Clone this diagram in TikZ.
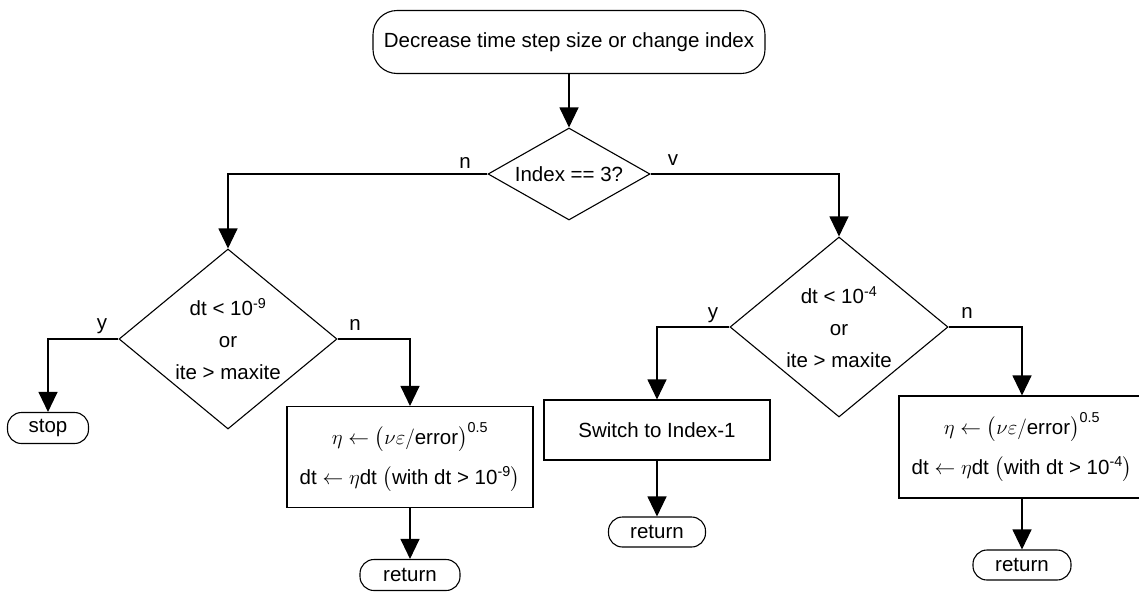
\documentclass[tikz,border=0pt]{standalone}
\usepackage{amsmath}
\usepackage{fontspec}
\setmainfont{Liberation Sans}
\usetikzlibrary{shapes,arrows.meta,positioning}

\begin{document}
\begin{tikzpicture}[x=1pt, y=-1pt, line width=1.1pt,
    font=\fontsize{20.5}{32}\selectfont]
    \tikzset{
        stepbox/.style={draw, rectangle, minimum width=246pt, minimum height=101pt, align=center, inner sep=0pt},
        termbox/.style={draw, rectangle, rounded corners=14pt, minimum width=100pt, minimum height=31pt, inner sep=0pt},
        cond/.style={draw, diamond, minimum width=218pt, minimum height=180pt, inner sep=0pt},
        condtxt/.style={align=center, inner sep=0pt},
        arr/.style={-{Triangle[length=20pt,width=19pt]}},
        lbl/.style={inner sep=0pt}
    }
    \useasboundingbox (0,0) rectangle (1139,592);
    \clip (0,0) rectangle (1139,592);

    % Start
    \node[draw, rounded corners=24pt, minimum width=392pt, minimum height=63pt] (start) at (569,42) {Decrease time step size or change index};

    % Index test
    \node[cond, minimum width=162pt, minimum height=92pt] (idx) at (569,174) {};
    \node[condtxt] (idxt) at (idx.center) {Index == 3?};
    \draw[arr] (start.south) -- (idx.north);

    % n: index 2 or 1
    \node[cond] (lowa) at (228,339) {};
    \node[condtxt] (lowat) at (lowa.center) {dt < 10\textsuperscript{-9}\\or\\ite > maxite};
    \node[termbox, minimum width=81pt] (stop) at (48,428) {stop};
    \node[stepbox] (lowb) at (410,457) {$\eta \leftarrow \bigl(\nu\varepsilon/\text{error}\bigr)^{\text{0.5}}$\\[8pt]
        dt $\leftarrow \eta$dt $\bigl($with dt > 10\textsuperscript{-9}$\bigr)$};
    \node[termbox] (reta) at (410,575) {return};

    \draw[arr] (idx.west) -| (lowa.north);
    \draw[arr] (lowa.west) -| (stop.north);
    \draw[arr] (lowa.east) -| (lowb.north);
    \draw[arr] (lowb.south) -- (reta.north);

    % v: index 3
    \node[cond] (higa) at (839,327) {};
    \node[condtxt] (higat) at (higa.center) {dt < 10\textsuperscript{-4}\\or\\ite > maxite};
    \node[draw, rectangle, minimum width=226pt, minimum height=60pt] (swit) at (657,430) {Switch to Index-1};
    \node[termbox, minimum width=97pt, minimum height=30pt] (retb) at (657,532) {return};
    \node[stepbox, minimum height=102pt] (higb) at (1022,447) {$\eta \leftarrow \bigl(\nu\varepsilon/\text{error}\bigr)^{\text{0.5}}$\\[8pt]
        dt $\leftarrow \eta$dt $\bigl($with dt > 10\textsuperscript{-4}$\bigr)$};
    \node[termbox, minimum width=98pt, minimum height=30pt] (retc) at (1022,565) {return};

    \draw[arr] (idx.east) -| (higa.north);
    \draw[arr] (higa.west) -| (swit.north);
    \draw[arr] (swit.south) -- (retb.north);
    \draw[arr] (higa.east) -| (higb.north);
    \draw[arr] (higb.south) -- (retc.north);

    % branch labels
    \node[lbl] (lidxn) at (465,163) {n};
    \node[lbl] (lidxv) at (673,160) {v};
    \node[lbl] (llowy) at (102,326) {y};
    \node[lbl] (llown) at (355,325) {n};
    \node[lbl] (lhigy) at (713,315) {y};
    \node[lbl] (lhign) at (967,313) {n};
\end{tikzpicture}
\end{document}
